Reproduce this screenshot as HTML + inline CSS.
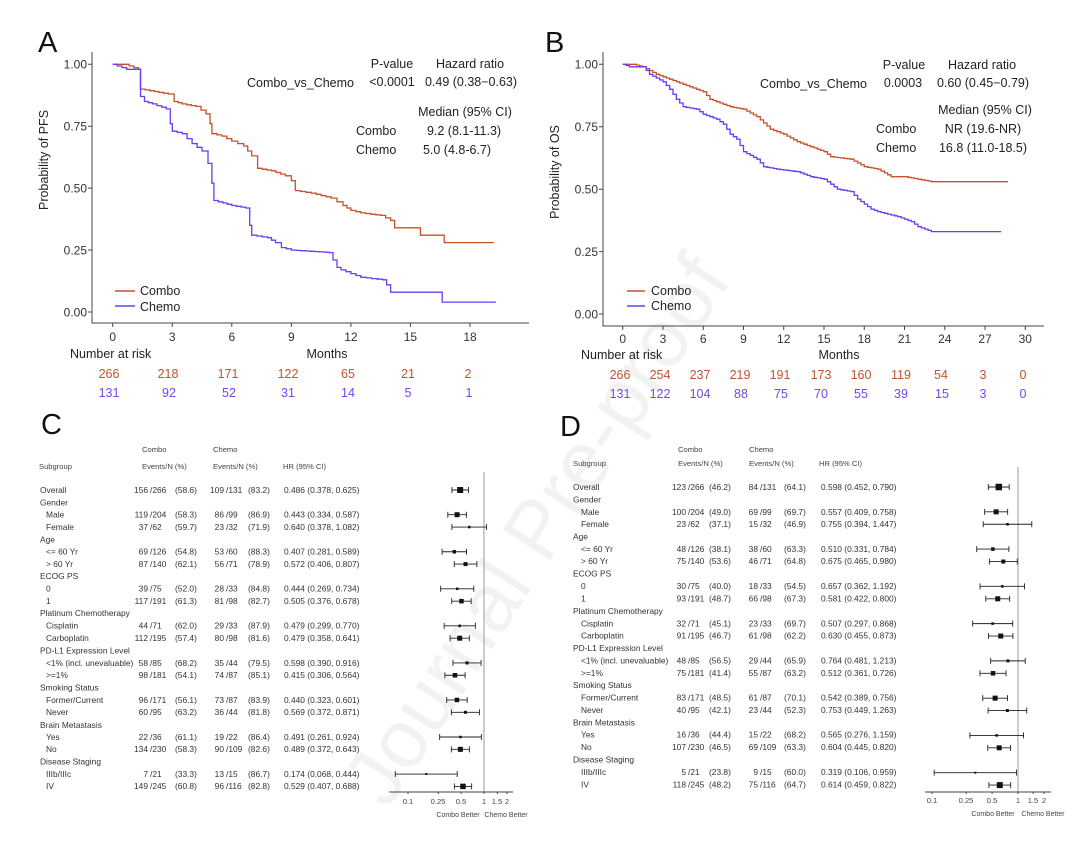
<!DOCTYPE html>
<html><head><meta charset="utf-8">
<style>
html,body{margin:0;padding:0;background:#fff;overflow:hidden;width:1080px;height:845px;}
svg{display:block;font-family:"Liberation Sans",Arial,sans-serif;}
.t{font-size:12.5px;fill:#222;}
.tk{font-size:12px;fill:#333;}
.f{font-size:8.4px;fill:#333;}
.h{font-size:7.6px;fill:#444;}
.c{fill:#c0552c;font-size:12.5px;}
.b{fill:#7346f0;font-size:12.5px;}
</style></head><body>
<svg id="s" width="1080" height="845" viewBox="0 0 1080 845" xmlns="http://www.w3.org/2000/svg">
<rect width="1080" height="845" fill="#fff"/>
<text x="560" y="545" transform="rotate(-57 560 545)" text-anchor="middle" font-size="82" fill="#f2f2f2">Journal Pre-proof</text>

<!-- Panel labels -->
<text x="38" y="52" font-size="29" fill="#111">A</text>
<text x="545" y="52" font-size="29" fill="#111">B</text>
<text x="41" y="434" font-size="29" fill="#111">C</text>
<text x="560" y="436" font-size="29" fill="#111">D</text>

<!-- Panel A axes -->
<g stroke="#444" stroke-width="1" fill="none">
<path d="M92,52V323H529"/>
<path d="M88,64.3H92M88,126.2H92M88,188.1H92M88,250H92M88,312H92"/>
<path d="M112.7,323v4M172.2,323v4M231.8,323v4M291.3,323v4M350.9,323v4M410.4,323v4M470,323v4"/>
</g>
<g class="tk" text-anchor="end">
<text x="87" y="68.5">1.00</text><text x="87" y="130.5">0.75</text><text x="87" y="192.5">0.50</text><text x="87" y="254.5">0.25</text><text x="87" y="316.5">0.00</text>
</g>
<g class="tk" text-anchor="middle">
<text x="112.7" y="341">0</text><text x="172.2" y="341">3</text><text x="231.8" y="341">6</text><text x="291.3" y="341">9</text><text x="350.9" y="341">12</text><text x="410.4" y="341">15</text><text x="470" y="341">18</text>
</g>
<text x="48" y="160" class="t" text-anchor="middle" transform="rotate(-90 48 160)">Probability of PFS</text>
<text x="70" y="358" class="t">Number at risk</text>
<text x="327" y="358" class="t" text-anchor="middle">Months</text>
<g text-anchor="middle">
<text class="c" x="109" y="378">266</text><text class="c" x="168" y="378">218</text><text class="c" x="228" y="378">171</text><text class="c" x="288" y="378">122</text><text class="c" x="348" y="378">65</text><text class="c" x="408" y="378">21</text><text class="c" x="468" y="378">2</text>
<text class="b" x="109" y="397">131</text><text class="b" x="169" y="397">92</text><text class="b" x="229" y="397">52</text><text class="b" x="288" y="397">31</text><text class="b" x="348" y="397">14</text><text class="b" x="408" y="397">5</text><text class="b" x="469" y="397">1</text>
</g>
<g class="t">
<text x="392" y="68" text-anchor="middle">P-value</text><text x="470" y="68" text-anchor="middle">Hazard ratio</text>
<text x="354" y="87" text-anchor="end">Combo_vs_Chemo</text><text x="392" y="86" text-anchor="middle">&lt;0.0001</text><text x="471" y="86" text-anchor="middle">0.49 (0.38−0.63)</text>
<text x="465" y="116" text-anchor="middle">Median (95% CI)</text>
<text x="356" y="135">Combo</text><text x="464" y="135" text-anchor="middle">9.2 (8.1-11.3)</text>
<text x="356" y="154">Chemo</text><text x="457" y="154" text-anchor="middle">5.0 (4.8-6.7)</text>
<text x="140" y="295">Combo</text><text x="140" y="311">Chemo</text>
</g>
<path d="M115,291H135" stroke="#c8512a" stroke-width="1.5"/><path d="M115,306H135" stroke="#6a3cf5" stroke-width="1.5"/>

<!-- Panel B axes -->
<g stroke="#444" stroke-width="1" fill="none">
<path d="M603,52V326H1044"/>
<path d="M599,64.3H603M599,126.7H603M599,189.2H603M599,251.6H603M599,314H603"/>
<path id="btk" d=""/>
</g>
<g class="tk" text-anchor="end">
<text x="598" y="68.5">1.00</text><text x="598" y="131">0.75</text><text x="598" y="193.5">0.50</text><text x="598" y="256">0.25</text><text x="598" y="318.5">0.00</text>
</g>
<g class="tk" text-anchor="middle">
<text x="622.7" y="343">0</text><text x="663" y="343">3</text><text x="703.2" y="343">6</text><text x="743.5" y="343">9</text><text x="783.7" y="343">12</text><text x="824" y="343">15</text><text x="864.3" y="343">18</text><text x="904.5" y="343">21</text><text x="944.8" y="343">24</text><text x="985" y="343">27</text><text x="1025.3" y="343">30</text>
</g>
<text x="559" y="172" class="t" text-anchor="middle" transform="rotate(-90 559 172)">Probability of OS</text>
<text x="581" y="359" class="t">Number at risk</text>
<text x="839" y="359" class="t" text-anchor="middle">Months</text>
<g text-anchor="middle">
<text class="c" x="620" y="379">266</text><text class="c" x="660" y="379">254</text><text class="c" x="700" y="379">237</text><text class="c" x="740" y="379">219</text><text class="c" x="780" y="379">191</text><text class="c" x="821" y="379">173</text><text class="c" x="861" y="379">160</text><text class="c" x="901" y="379">119</text><text class="c" x="941" y="379">54</text><text class="c" x="983" y="379">3</text><text class="c" x="1023" y="379">0</text>
<text class="b" x="620" y="398">131</text><text class="b" x="660" y="398">122</text><text class="b" x="700" y="398">104</text><text class="b" x="741" y="398">88</text><text class="b" x="781" y="398">75</text><text class="b" x="821" y="398">70</text><text class="b" x="861" y="398">55</text><text class="b" x="901" y="398">39</text><text class="b" x="942" y="398">15</text><text class="b" x="983" y="398">3</text><text class="b" x="1023" y="398">0</text>
</g>
<g class="t">
<text x="904" y="69" text-anchor="middle">P-value</text><text x="982" y="69" text-anchor="middle">Hazard ratio</text>
<text x="867" y="88" text-anchor="end">Combo_vs_Chemo</text><text x="903" y="87" text-anchor="middle">0.0003</text><text x="983" y="87" text-anchor="middle">0.60 (0.45−0.79)</text>
<text x="985" y="114" text-anchor="middle">Median (95% CI)</text>
<text x="876" y="133">Combo</text><text x="983" y="133" text-anchor="middle">NR (19.6-NR)</text>
<text x="876" y="152">Chemo</text><text x="983" y="152" text-anchor="middle">16.8 (11.0-18.5)</text>
<text x="651" y="295">Combo</text><text x="651" y="310">Chemo</text>
</g>
<path d="M627,291H645" stroke="#c8512a" stroke-width="1.5"/><path d="M627,306H645" stroke="#6a3cf5" stroke-width="1.5"/>

<g id="curves"></g>

<!-- Panel C table -->
<g class="h">
<text x="142" y="452">Combo</text><text x="213" y="452">Chemo</text>
<text x="39" y="469">Subgroup</text><text x="142" y="469">Events/N (%)</text><text x="213" y="469">Events/N (%)</text><text x="283" y="469">HR (95% CI)</text>
</g>
<g class="f">
<text x="40" y="493">Overall</text><text x="148" y="493" text-anchor="end">156</text><text x="150" y="493">/266</text><text x="175" y="493">(58.6)</text><text x="224" y="493" text-anchor="end">109</text><text x="226" y="493">/131</text><text x="248" y="493">(83.2)</text><text x="284" y="493">0.486 (0.378, 0.625)</text>
<text x="40" y="505.5">Gender</text>
<text x="46" y="517.5">Male</text><text x="148" y="517.5" text-anchor="end">119</text><text x="150" y="517.5">/204</text><text x="175" y="517.5">(58.3)</text><text x="224" y="517.5" text-anchor="end">86</text><text x="226" y="517.5">/99</text><text x="248" y="517.5">(86.9)</text><text x="284" y="517.5">0.443 (0.334, 0.587)</text>
<text x="46" y="530">Female</text><text x="148" y="530" text-anchor="end">37</text><text x="150" y="530">/62</text><text x="175" y="530">(59.7)</text><text x="224" y="530" text-anchor="end">23</text><text x="226" y="530">/32</text><text x="248" y="530">(71.9)</text><text x="284" y="530">0.640 (0.378, 1.082)</text>
<text x="40" y="542.5">Age</text>
<text x="46" y="554.5">&lt;= 60  Yr</text><text x="148" y="554.5" text-anchor="end">69</text><text x="150" y="554.5">/126</text><text x="175" y="554.5">(54.8)</text><text x="224" y="554.5" text-anchor="end">53</text><text x="226" y="554.5">/60</text><text x="248" y="554.5">(88.3)</text><text x="284" y="554.5">0.407 (0.281, 0.589)</text>
<text x="46" y="567">&gt; 60 Yr</text><text x="148" y="567" text-anchor="end">87</text><text x="150" y="567">/140</text><text x="175" y="567">(62.1)</text><text x="224" y="567" text-anchor="end">56</text><text x="226" y="567">/71</text><text x="248" y="567">(78.9)</text><text x="284" y="567">0.572 (0.406, 0.807)</text>
<text x="40" y="579">ECOG PS</text>
<text x="46" y="591.5">0</text><text x="148" y="591.5" text-anchor="end">39</text><text x="150" y="591.5">/75</text><text x="175" y="591.5">(52.0)</text><text x="224" y="591.5" text-anchor="end">28</text><text x="226" y="591.5">/33</text><text x="248" y="591.5">(84.8)</text><text x="284" y="591.5">0.444 (0.269, 0.734)</text>
<text x="46" y="604">1</text><text x="148" y="604" text-anchor="end">117</text><text x="150" y="604">/191</text><text x="175" y="604">(61.3)</text><text x="224" y="604" text-anchor="end">81</text><text x="226" y="604">/98</text><text x="248" y="604">(82.7)</text><text x="284" y="604">0.505 (0.376, 0.678)</text>
<text x="40" y="616">Platinum Chemotherapy</text>
<text x="46" y="628.5">Cisplatin</text><text x="148" y="628.5" text-anchor="end">44</text><text x="150" y="628.5">/71</text><text x="175" y="628.5">(62.0)</text><text x="224" y="628.5" text-anchor="end">29</text><text x="226" y="628.5">/33</text><text x="248" y="628.5">(87.9)</text><text x="284" y="628.5">0.479 (0.299, 0.770)</text>
<text x="46" y="641">Carboplatin</text><text x="148" y="641" text-anchor="end">112</text><text x="150" y="641">/195</text><text x="175" y="641">(57.4)</text><text x="224" y="641" text-anchor="end">80</text><text x="226" y="641">/98</text><text x="248" y="641">(81.6)</text><text x="284" y="641">0.479 (0.358, 0.641)</text>
<text x="40" y="653.5">PD-L1 Expression Level</text>
<text x="46" y="666">&lt;1% (incl. unevaluable)</text><text x="148" y="666" text-anchor="end">58</text><text x="150" y="666">/85</text><text x="175" y="666">(68.2)</text><text x="224" y="666" text-anchor="end">35</text><text x="226" y="666">/44</text><text x="248" y="666">(79.5)</text><text x="284" y="666">0.598 (0.390, 0.916)</text>
<text x="46" y="678">&gt;=1%</text><text x="148" y="678" text-anchor="end">98</text><text x="150" y="678">/181</text><text x="175" y="678">(54.1)</text><text x="224" y="678" text-anchor="end">74</text><text x="226" y="678">/87</text><text x="248" y="678">(85.1)</text><text x="284" y="678">0.415 (0.306, 0.564)</text>
<text x="40" y="690.5">Smoking Status</text>
<text x="46" y="703">Former/Current</text><text x="148" y="703" text-anchor="end">96</text><text x="150" y="703">/171</text><text x="175" y="703">(56.1)</text><text x="224" y="703" text-anchor="end">73</text><text x="226" y="703">/87</text><text x="248" y="703">(83.9)</text><text x="284" y="703">0.440 (0.323, 0.601)</text>
<text x="46" y="715">Never</text><text x="148" y="715" text-anchor="end">60</text><text x="150" y="715">/95</text><text x="175" y="715">(63.2)</text><text x="224" y="715" text-anchor="end">36</text><text x="226" y="715">/44</text><text x="248" y="715">(81.8)</text><text x="284" y="715">0.569 (0.372, 0.871)</text>
<text x="40" y="728">Brain Metastasis</text>
<text x="46" y="740">Yes</text><text x="148" y="740" text-anchor="end">22</text><text x="150" y="740">/36</text><text x="175" y="740">(61.1)</text><text x="224" y="740" text-anchor="end">19</text><text x="226" y="740">/22</text><text x="248" y="740">(86.4)</text><text x="284" y="740">0.491 (0.261, 0.924)</text>
<text x="46" y="752">No</text><text x="148" y="752" text-anchor="end">134</text><text x="150" y="752">/230</text><text x="175" y="752">(58.3)</text><text x="224" y="752" text-anchor="end">90</text><text x="226" y="752">/109</text><text x="248" y="752">(82.6)</text><text x="284" y="752">0.489 (0.372, 0.643)</text>
<text x="40" y="764.5">Disease Staging</text>
<text x="46" y="777">IIIb/IIIc</text><text x="148" y="777" text-anchor="end">7</text><text x="150" y="777">/21</text><text x="175" y="777">(33.3)</text><text x="224" y="777" text-anchor="end">13</text><text x="226" y="777">/15</text><text x="248" y="777">(86.7)</text><text x="284" y="777">0.174 (0.068, 0.444)</text>
<text x="46" y="789">IV</text><text x="148" y="789" text-anchor="end">149</text><text x="150" y="789">/245</text><text x="175" y="789">(60.8)</text><text x="224" y="789" text-anchor="end">96</text><text x="226" y="789">/116</text><text x="248" y="789">(82.8)</text><text x="284" y="789">0.529 (0.407, 0.688)</text>
</g>
<g class="h" text-anchor="middle">
<text x="408" y="804">0.1</text><text x="438" y="804">0.25</text><text x="461" y="804">0.5</text><text x="484" y="804">1</text><text x="497" y="804">1.5</text><text x="507" y="804">2</text>
<text x="458" y="817" font-size="7">Combo Better</text><text x="506" y="817" font-size="7">Chemo Better</text>
</g>

<!-- Panel D table -->
<g class="h">
<text x="678" y="452">Combo</text><text x="749" y="452">Chemo</text>
<text x="573" y="466">Subgroup</text><text x="678" y="466">Events/N (%)</text><text x="749" y="466">Events/N (%)</text><text x="819" y="466">HR (95% CI)</text>
</g>
<g class="f" id="dt">
<text x="573" y="490">Overall</text><text x="686" y="490" text-anchor="end">123</text><text x="688" y="490">/266</text><text x="709" y="490">(46.2)</text><text x="758" y="490" text-anchor="end">84</text><text x="760" y="490">/131</text><text x="784" y="490">(64.1)</text><text x="821" y="490">0.598 (0.452, 0.790)</text>
<text x="573" y="502.5">Gender</text>
<text x="581" y="515">Male</text><text x="686" y="515" text-anchor="end">100</text><text x="688" y="515">/204</text><text x="709" y="515">(49.0)</text><text x="758" y="515" text-anchor="end">69</text><text x="760" y="515">/99</text><text x="784" y="515">(69.7)</text><text x="821" y="515">0.557 (0.409, 0.758)</text>
<text x="581" y="527">Female</text><text x="686" y="527" text-anchor="end">23</text><text x="688" y="527">/62</text><text x="709" y="527">(37.1)</text><text x="758" y="527" text-anchor="end">15</text><text x="760" y="527">/32</text><text x="784" y="527">(46.9)</text><text x="821" y="527">0.755 (0.394, 1.447)</text>
<text x="573" y="539.5">Age</text>
<text x="581" y="552">&lt;= 60  Yr</text><text x="686" y="552" text-anchor="end">48</text><text x="688" y="552">/126</text><text x="709" y="552">(38.1)</text><text x="758" y="552" text-anchor="end">38</text><text x="760" y="552">/60</text><text x="784" y="552">(63.3)</text><text x="821" y="552">0.510 (0.331, 0.784)</text>
<text x="581" y="564">&gt; 60 Yr</text><text x="686" y="564" text-anchor="end">75</text><text x="688" y="564">/140</text><text x="709" y="564">(53.6)</text><text x="758" y="564" text-anchor="end">46</text><text x="760" y="564">/71</text><text x="784" y="564">(64.8)</text><text x="821" y="564">0.675 (0.465, 0.980)</text>
<text x="573" y="576.5">ECOG PS</text>
<text x="581" y="589">0</text><text x="686" y="589" text-anchor="end">30</text><text x="688" y="589">/75</text><text x="709" y="589">(40.0)</text><text x="758" y="589" text-anchor="end">18</text><text x="760" y="589">/33</text><text x="784" y="589">(54.5)</text><text x="821" y="589">0.657 (0.362, 1.192)</text>
<text x="581" y="601.5">1</text><text x="686" y="601.5" text-anchor="end">93</text><text x="688" y="601.5">/191</text><text x="709" y="601.5">(48.7)</text><text x="758" y="601.5" text-anchor="end">66</text><text x="760" y="601.5">/98</text><text x="784" y="601.5">(67.3)</text><text x="821" y="601.5">0.581 (0.422, 0.800)</text>
<text x="573" y="614">Platinum Chemotherapy</text>
<text x="581" y="626.5">Cisplatin</text><text x="686" y="626.5" text-anchor="end">32</text><text x="688" y="626.5">/71</text><text x="709" y="626.5">(45.1)</text><text x="758" y="626.5" text-anchor="end">23</text><text x="760" y="626.5">/33</text><text x="784" y="626.5">(69.7)</text><text x="821" y="626.5">0.507 (0.297, 0.868)</text>
<text x="581" y="638.5">Carboplatin</text><text x="686" y="638.5" text-anchor="end">91</text><text x="688" y="638.5">/195</text><text x="709" y="638.5">(46.7)</text><text x="758" y="638.5" text-anchor="end">61</text><text x="760" y="638.5">/98</text><text x="784" y="638.5">(62.2)</text><text x="821" y="638.5">0.630 (0.455, 0.873)</text>
<text x="573" y="651">PD-L1 Expression Level</text>
<text x="581" y="663.5">&lt;1% (incl. unevaluable)</text><text x="686" y="663.5" text-anchor="end">48</text><text x="688" y="663.5">/85</text><text x="709" y="663.5">(56.5)</text><text x="758" y="663.5" text-anchor="end">29</text><text x="760" y="663.5">/44</text><text x="784" y="663.5">(65.9)</text><text x="821" y="663.5">0.764 (0.481, 1.213)</text>
<text x="581" y="676">&gt;=1%</text><text x="686" y="676" text-anchor="end">75</text><text x="688" y="676">/181</text><text x="709" y="676">(41.4)</text><text x="758" y="676" text-anchor="end">55</text><text x="760" y="676">/87</text><text x="784" y="676">(63.2)</text><text x="821" y="676">0.512 (0.361, 0.726)</text>
<text x="573" y="688">Smoking Status</text>
<text x="581" y="700.5">Former/Current</text><text x="686" y="700.5" text-anchor="end">83</text><text x="688" y="700.5">/171</text><text x="709" y="700.5">(48.5)</text><text x="758" y="700.5" text-anchor="end">61</text><text x="760" y="700.5">/87</text><text x="784" y="700.5">(70.1)</text><text x="821" y="700.5">0.542 (0.389, 0.756)</text>
<text x="581" y="713">Never</text><text x="686" y="713" text-anchor="end">40</text><text x="688" y="713">/95</text><text x="709" y="713">(42.1)</text><text x="758" y="713" text-anchor="end">23</text><text x="760" y="713">/44</text><text x="784" y="713">(52.3)</text><text x="821" y="713">0.753 (0.449, 1.263)</text>
<text x="573" y="725.5">Brain Metastasis</text>
<text x="581" y="737.5">Yes</text><text x="686" y="737.5" text-anchor="end">16</text><text x="688" y="737.5">/36</text><text x="709" y="737.5">(44.4)</text><text x="758" y="737.5" text-anchor="end">15</text><text x="760" y="737.5">/22</text><text x="784" y="737.5">(68.2)</text><text x="821" y="737.5">0.565 (0.276, 1.159)</text>
<text x="581" y="750">No</text><text x="686" y="750" text-anchor="end">107</text><text x="688" y="750">/230</text><text x="709" y="750">(46.5)</text><text x="758" y="750" text-anchor="end">69</text><text x="760" y="750">/109</text><text x="784" y="750">(63.3)</text><text x="821" y="750">0.604 (0.445, 0.820)</text>
<text x="573" y="762.5">Disease Staging</text>
<text x="581" y="775">IIIb/IIIc</text><text x="686" y="775" text-anchor="end">5</text><text x="688" y="775">/21</text><text x="709" y="775">(23.8)</text><text x="758" y="775" text-anchor="end">9</text><text x="760" y="775">/15</text><text x="784" y="775">(60.0)</text><text x="821" y="775">0.319 (0.106, 0.959)</text>
<text x="581" y="787.5">IV</text><text x="686" y="787.5" text-anchor="end">118</text><text x="688" y="787.5">/245</text><text x="709" y="787.5">(48.2)</text><text x="758" y="787.5" text-anchor="end">75</text><text x="760" y="787.5">/116</text><text x="784" y="787.5">(64.7)</text><text x="821" y="787.5">0.614 (0.459, 0.822)</text>
</g>
<g class="h" text-anchor="middle">
<text x="932" y="803">0.1</text><text x="966" y="803">0.25</text><text x="992" y="803">0.5</text><text x="1018" y="803">1</text><text x="1033" y="803">1.5</text><text x="1044" y="803">2</text>
<text x="993" y="816" font-size="7">Combo Better</text><text x="1043" y="816" font-size="7">Chemo Better</text>
</g>
<g id="forest"></g>
</svg>
<script>
var NS="http://www.w3.org/2000/svg";
function el(p,t,a){var e=document.createElementNS(NS,t);for(var k in a)e.setAttribute(k,a[k]);p.appendChild(e);return e;}
var cg=document.getElementById('curves');
function km(pts,x0,sx,y0,y1,col){var ys=function(s){return y0+(y1-y0)*s;};
 var d="M"+x0+","+ys(1);
 for(var i=1;i<pts.length;i++){
  var a=pts[i-1],b=pts[i];
  var n=Math.max(1,Math.round((b[0]-a[0])/0.25));
  if(i==pts.length-1||a[1]==b[1])n=1;
  for(var k=1;k<=n;k++){var m=a[0]+(b[0]-a[0])*k/n;var s=a[1]+(b[1]-a[1])*k/n;
   d+="H"+(x0+m*sx).toFixed(1)+"V"+ys(s).toFixed(1);}
 }
 el(cg,'path',{d:d,fill:'none',stroke:col,'stroke-width':1.3});}
var Ac=[[0,1],[0.6,1],[1.3,0.98],[1.4,0.9],[2.8,0.88],[3.1,0.85],[3.5,0.84],[4.2,0.83],[4.7,0.8],[4.9,0.76],[5.0,0.72],[5.5,0.71],[6.0,0.69],[6.6,0.67],[7.0,0.63],[7.3,0.58],[8.0,0.57],[8.7,0.55],[9.0,0.53],[9.2,0.49],[10.0,0.48],[11.0,0.46],[11.6,0.43],[12.0,0.41],[12.5,0.40],[13.5,0.39],[14.0,0.37],[14.2,0.34],[15.3,0.34],[15.5,0.31],[16.5,0.31],[16.7,0.28],[19.2,0.28]];
var Ab=[[0,1],[0.7,0.98],[1.2,0.98],[1.4,0.87],[1.6,0.85],[2.0,0.84],[2.7,0.82],[2.9,0.76],[3.0,0.73],[3.5,0.72],[4.0,0.68],[4.5,0.65],[4.8,0.6],[5.0,0.52],[5.1,0.45],[6.0,0.43],[6.7,0.42],[6.9,0.35],[7.0,0.31],[7.8,0.3],[8.2,0.28],[8.5,0.26],[9.0,0.25],[10.9,0.24],[11.3,0.18],[11.5,0.17],[12.5,0.14],[13.6,0.13],[13.8,0.11],[14.0,0.08],[16.5,0.08],[16.6,0.04],[19.3,0.04]];
var Bc=[[0,1],[0.8,1],[1.5,0.99],[2.5,0.96],[3.5,0.94],[4.5,0.92],[5.5,0.9],[6,0.89],[6.5,0.86],[7.5,0.84],[8,0.83],[9,0.82],[10,0.79],[11,0.74],[12,0.72],[13,0.69],[14,0.67],[15,0.65],[15.5,0.63],[17,0.62],[18,0.59],[19,0.58],[20,0.55],[21,0.55],[22,0.54],[23,0.53],[28.7,0.53]];
var Bb=[[0,1],[0.5,0.99],[1.5,0.99],[2,0.96],[3,0.93],[3.5,0.9],[4,0.86],[4.5,0.83],[5.5,0.82],[6,0.8],[7,0.78],[7.5,0.76],[8,0.72],[8.5,0.7],[9,0.65],[10,0.62],[10.5,0.59],[11.5,0.58],[13,0.57],[14,0.55],[15,0.54],[16,0.5],[17,0.49],[17.5,0.46],[18.5,0.42],[19,0.41],[20.5,0.39],[21.5,0.37],[22,0.35],[22.5,0.34],[23,0.33],[28.2,0.33]];
km(Ac,112.7,19.85,312,64.3,'#c8512a');km(Ab,112.7,19.85,312,64.3,'#6a3cf5');
km(Bc,622.7,13.42,314,64.3,'#c8512a');km(Bb,622.7,13.42,314,64.3,'#6a3cf5');
var t="";for(var i=0;i<=10;i++){var x=622.7+i*3*13.42;t+="M"+x+",326v4";}document.getElementById('btk').setAttribute('d',t);
var fg=document.getElementById('forest');
function forest(rows,y0,dy,cx,sc,ax0,ax1,top,data){
 el(fg,'path',{d:"M"+cx+","+top+"V792",stroke:'#aaa','stroke-width':1.2,fill:'none'});
 el(fg,'path',{d:"M"+ax0+",792H"+ax1,stroke:'#444','stroke-width':1,fill:'none'});
 [0.1,0.25,0.5,1,1.5,2].forEach(function(v){var x=cx+Math.log10(v)*sc;el(fg,'path',{d:"M"+x+",792v2",stroke:'#444'});});
 data.forEach(function(r){var y=y0+r[0]*dy;var f=function(v){return cx+Math.log10(v)*sc;};
  el(fg,'path',{d:"M"+f(r[2])+","+y+"H"+f(r[3])+"M"+f(r[2])+","+(y-3)+"v6M"+f(r[3])+","+(y-3)+"v6",stroke:'#222','stroke-width':0.9,fill:'none'});
  var s=r[4];el(fg,'rect',{x:f(r[1])-s/2,y:y-s/2,width:s,height:s,fill:'#111'});});
}
forest(0,490,12.35,484,76,389,513,472,[[0,.486,.378,.625,6],[2,.443,.334,.587,5],[3,.640,.378,1.082,2.5],[5,.407,.281,.589,3.5],[6,.572,.406,.807,4],[8,.444,.269,.734,2.5],[9,.505,.376,.678,4.5],[11,.479,.299,.770,2.5],[12,.479,.358,.641,5],[14,.598,.390,.916,3],[15,.415,.306,.564,4.5],[17,.440,.323,.601,4.5],[18,.569,.372,.871,3],[20,.491,.261,.924,2.5],[21,.489,.372,.643,5],[23,.174,.068,.444,2],[24,.529,.407,.688,5.5]]);
forest(0,487,12.42,1018,86,925,1051,467,[[0,.598,.452,.790,6.5],[2,.557,.409,.758,5],[3,.755,.394,1.447,2.5],[5,.510,.331,.784,3.5],[6,.675,.465,.980,4],[8,.657,.362,1.192,2.5],[9,.581,.422,.800,5],[11,.507,.297,.868,2.5],[12,.630,.455,.873,5],[14,.764,.481,1.213,3],[15,.512,.361,.726,4.5],[17,.542,.389,.756,5],[18,.753,.449,1.263,3],[20,.565,.276,1.159,2.5],[21,.604,.445,.820,5],[23,.319,.106,.959,2],[24,.614,.459,.822,6]]);
</script>
</body></html>
